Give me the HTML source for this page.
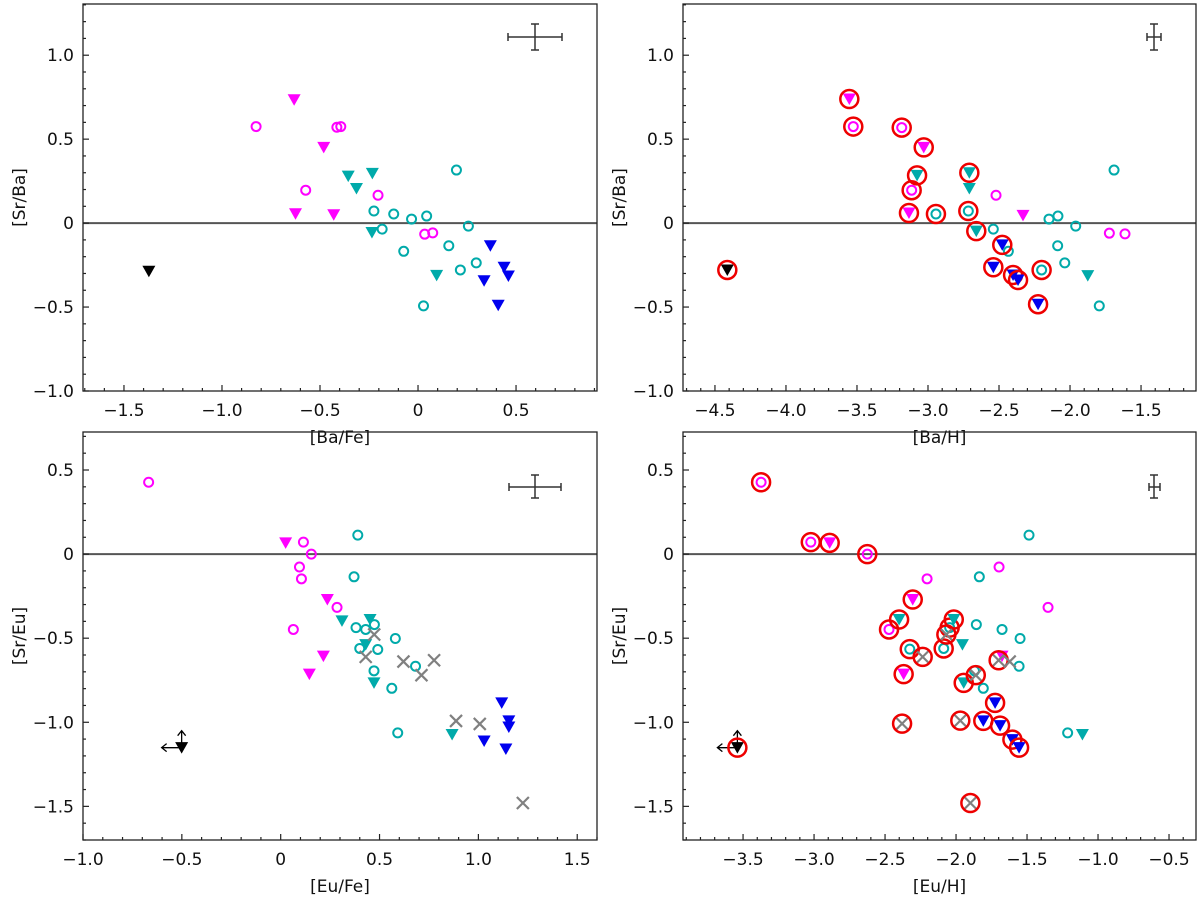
<!DOCTYPE html>
<html><head><meta charset="utf-8"><style>
html,body{margin:0;padding:0;background:#fff;}
svg{display:block;font-family:"DejaVu Sans","Liberation Sans",sans-serif;}
</style></head><body>
<svg id="fig" width="1200" height="898" viewBox="0 0 1200 898" xmlns="http://www.w3.org/2000/svg"></svg>
<script>
// ---- data (top-left: [Ba/Fe] vs [Sr/Ba]) ----
const tlX=[-0.632,-0.481,-0.625,-0.430,-0.826,-0.414,-0.394,-0.573,-0.204,0.034,0.075,-0.356,-0.233,-0.314,-0.235,0.095,0.196,-0.225,-0.124,-0.033,0.044,-0.183,0.257,-0.073,0.157,0.297,0.216,0.028,0.369,0.439,0.461,0.337,0.409,-1.373];
const tlY=[0.735,0.451,0.056,0.05,0.575,0.571,0.575,0.196,0.166,-0.066,-0.058,0.28,0.296,0.206,-0.056,-0.311,0.316,0.072,0.054,0.024,0.042,-0.036,-0.018,-0.168,-0.135,-0.237,-0.279,-0.493,-0.135,-0.263,-0.315,-0.343,-0.489,-0.287];
const tlKind=['mt','mt','mt','mt','mc','mc','mc','mc','mc','mc','mc','tt','tt','tt','tt','tt','tc','tc','tc','tc','tc','tc','tc','tc','tc','tc','tc','tc','bt','bt','bt','bt','bt','k'];
// ---- top-right: [Ba/H] vs [Sr/Ba] ----
const trX=[-3.554,-3.03,-3.134,-2.331,-3.526,-3.185,-3.115,-2.521,-1.723,-1.613,-3.077,-2.709,-2.709,-2.66,-1.875,-1.69,-2.944,-2.716,-2.54,-2.148,-2.085,-1.96,-2.434,-2.087,-2.037,-2.2,-1.794,-2.477,-2.54,-2.401,-2.366,-2.225,-4.413];
const trY=[0.739,0.451,0.06,0.046,0.575,0.569,0.196,0.166,-0.06,-0.064,0.284,0.3,0.206,-0.048,-0.313,0.316,0.054,0.072,-0.036,0.024,0.042,-0.018,-0.168,-0.135,-0.237,-0.279,-0.493,-0.13,-0.263,-0.309,-0.339,-0.483,-0.279];
const trKind=['mt','mt','mt','mt','mc','mc','mc','mc','mc','mc','tt','tt','tt','tt','tt','tc','tc','tc','tc','tc','tc','tc','tc','tc','tc','tc','tc','bt','bt','bt','bt','bt','k'];
const trRing=[1,1,1,0,1,1,1,0,0,0,1,1,0,1,0,0,1,1,0,0,0,0,0,0,0,1,0,1,1,1,1,1,1];
// ---- bottom-left: [Eu/Fe] vs [Sr/Eu] ----
const blX=[-0.668,0.115,0.155,0.095,0.105,0.285,0.064,0.025,0.236,0.216,0.145,0.39,0.371,0.381,0.43,0.474,0.58,0.4,0.491,0.682,0.472,0.562,0.592,0.31,0.452,0.43,0.472,0.867,0.473,0.43,0.621,0.776,0.712,0.887,1.007,1.225,1.118,1.154,1.154,1.029,1.139,-0.501];
const blY=[0.427,0.071,0,-0.077,-0.147,-0.317,-0.448,0.067,-0.27,-0.607,-0.714,0.113,-0.135,-0.437,-0.448,-0.419,-0.502,-0.561,-0.567,-0.667,-0.694,-0.798,-1.063,-0.397,-0.389,-0.538,-0.766,-1.073,-0.478,-0.611,-0.639,-0.631,-0.72,-0.992,-1.01,-1.48,-0.885,-0.992,-1.028,-1.111,-1.159,-1.151];
const blKind=['mc','mc','mc','mc','mc','mc','mc','mt','mt','mt','mt','tc','tc','tc','tc','tc','tc','tc','tc','tc','tc','tc','tc','tt','tt','tt','tt','tt','x','x','x','x','x','x','x','x','bt','bt','bt','bt','bt','k'];
// ---- bottom-right: [Eu/H] vs [Sr/Eu] ----
const brX=[-3.373,-3.023,-2.625,-2.204,-1.697,-1.352,-2.472,-2.89,-2.305,-2.369,-1.676,-1.486,-1.836,-1.857,-1.676,-1.549,-1.556,-1.808,-1.214,-2.326,-2.087,-2.045,-1.87,-2.401,-2.016,-1.955,-1.946,-1.11,-2.235,-2.068,-1.70,-1.622,-1.861,-2.38,-1.97,-1.899,-1.725,-1.808,-1.69,-1.603,-1.556,-3.54];
const brY=[0.427,0.071,0,-0.147,-0.077,-0.317,-0.448,0.067,-0.27,-0.714,-0.607,0.113,-0.135,-0.419,-0.448,-0.502,-0.667,-0.798,-1.063,-0.565,-0.561,-0.437,-0.694,-0.389,-0.389,-0.538,-0.766,-1.073,-0.611,-0.478,-0.631,-0.639,-0.72,-1.008,-0.99,-1.48,-0.885,-0.992,-1.02,-1.103,-1.151,-1.151];
const brKind=['mc','mc','mc','mc','mc','mc','mc','mt','mt','mt','mt','tc','tc','tc','tc','tc','tc','tc','tc','tc','tc','tc','tc','tt','tt','tt','tt','tt','x','x','x','x','x','x','x','x','bt','bt','bt','bt','bt','k'];
const brRing=[1,1,1,0,0,0,1,1,1,1,0,0,0,0,0,0,0,0,0,1,1,1,0,1,1,0,1,0,1,1,1,0,1,1,1,1,1,1,1,1,1,1];
// ---- tick labels ----
const tlXTicks=[-1.5,-1.0,-0.5,0,0.5];
const trXTicks=[-4.5,-4.0,-3.5,-3.0,-2.5,-2.0,-1.5];
const blXTicks=[-1.0,-0.5,0,0.5,1.0,1.5];
const brXTicks=[-3.5,-3.0,-2.5,-2.0,-1.5,-1.0,-0.5];
const topYTicks=[-1.0,-0.5,0,0.5,1.0];
const botYTicks=[-1.5,-1.0,-0.5,0,0.5];

const NS='http://www.w3.org/2000/svg';
const svg=document.getElementById('fig');
function mk(tag,attrs,parent){const e=document.createElementNS(NS,tag);for(const k in attrs)e.setAttribute(k,attrs[k]);(parent||svg).appendChild(e);return e;}
function fmt(v){if(v===0)return '0';return (v<0?'\u2212':'')+Math.abs(v).toFixed(1);}
const COL={m:'#ff00ff',t:'#00aaaa',b:'#0000ee',k:'#000000'};

function panel(cfg){
  const g=mk('g',{});
  
  
  const sx=v=>cfg.l+(v-cfg.x0)/(cfg.x1-cfg.x0)*(cfg.r-cfg.l);
  const sy=v=>cfg.b-(v-cfg.y0)/(cfg.y1-cfg.y0)*(cfg.b-cfg.t);
  const zl=mk('line',{x1:cfg.l,x2:cfg.r,y1:sy(0),y2:sy(0),stroke:'#555',"stroke-width":2},g);
  
  
  for(let v=Math.ceil(cfg.x0*10);v<=Math.floor(cfg.x1*10);v++){
    const x=sx(v/10);const major=(v%5===0);
    mk('line',{x1:x,x2:x,y1:cfg.b,y2:cfg.b-(major?6:3),stroke:'#222',"stroke-width":1.2},g);
  }
  for(let v=Math.ceil(cfg.y0*10);v<=Math.floor(cfg.y1*10);v++){
    const y=sy(v/10);const major=(v%5===0);
    mk('line',{x1:cfg.l,x2:cfg.l+(major?6:3),y1:y,y2:y,stroke:'#222',"stroke-width":1.2},g);
  }
  cfg.xt.forEach(v=>{const t=mk('text',{x:sx(v),y:cfg.b+25,"text-anchor":"middle","font-size":17,fill:'#111'},g);t.textContent=fmt(v);
    
    });
  cfg.yt.forEach(v=>{const t=mk('text',{x:cfg.l-9,y:sy(v)+6,"text-anchor":"end","font-size":17,fill:'#111'},g);t.textContent=fmt(v);
    
    });
  const xt=mk('text',{x:(cfg.l+cfg.r)/2,y:cfg.b+52,"text-anchor":"middle","font-size":17,fill:'#111'},g);xt.textContent=cfg.xl;
  
  
  const yc=(cfg.t+cfg.b)/2, yx=cfg.l-58;
  const yt=mk('text',{x:yx,y:yc,"text-anchor":"middle","font-size":17,fill:'#111',transform:`rotate(-90 ${yx} ${yc})`},g);yt.textContent=cfg.yl;
  
  
  const eb=mk('g',{stroke:'#333',"stroke-width":1.5,fill:'none'},g);
  
  
  const e=cfg.eb;
  mk('path',{d:`M${e[1]} ${e[2]}H${e[3]}M${e[1]} ${e[2]-4}v8M${e[3]} ${e[2]-4}v8M${e[0]} ${e[4]}V${e[5]}M${e[0]-4} ${e[4]}h8M${e[0]-4} ${e[5]}h8`},eb);
  const X=cfg.X,Y=cfg.Y,K=cfg.K,R=cfg.R;
  for(let i=0;i<X.length;i++){
    const px=sx(X[i]),py=sy(Y[i]),k=K[i];let el;
    if(k==='x'){
      el=mk('path',{d:`M${px-6} ${py-6}L${px+6} ${py+6}M${px-6} ${py+6}L${px+6} ${py-6}`,stroke:'#808080',"stroke-width":2.2,fill:'none'},g);
    }else if(k[1]==='c'){
      el=mk('circle',{cx:px,cy:py,r:4.5,fill:'none',stroke:COL[k[0]],"stroke-width":2},g);
    }else{
      const c=k==='k'?COL.k:COL[k[0]];
      el=mk('path',{d:`M${px-6.5} ${py-5.5}L${px+6.5} ${py-5.5}L${px} ${py+6}Z`,fill:c},g);
      if(k==='k'&&cfg.arrows){
        mk('path',{d:`M${px} ${py}H${px-20}M${px-15} ${py-4}L${px-20} ${py}L${px-15} ${py+4}M${px} ${py}V${py-17}M${px-4} ${py-12}L${px} ${py-17}L${px+4} ${py-12}`,stroke:'#000',"stroke-width":1.3,fill:'none'},g);
      }
    }
    
    
    if(R&&R[i]){
      const rg=mk('circle',{cx:px,cy:py,r:9,fill:'none',stroke:'#ee0000',"stroke-width":2.5},g);
      
      
    }
  }
  const fr=mk('rect',{x:cfg.l,y:cfg.t,width:cfg.r-cfg.l,height:cfg.b-cfg.t,fill:'none',stroke:'#222',"stroke-width":1.3},g);
  
  
}
panel({name:'panel-srba-bafe',l:83,r:597,t:4,b:391,x0:-1.709,x1:0.913,y0:-1.0,y1:1.305,xt:tlXTicks,yt:topYTicks,xl:'[Ba/Fe]',yl:'[Sr/Ba]',X:tlX,Y:tlY,K:tlKind,R:null,eb:[535,508,37,562,24,50]});
panel({name:'panel-srba-bah',l:683,r:1196,t:4,b:391,x0:-4.725,x1:-1.113,y0:-1.0,y1:1.305,xt:trXTicks,yt:topYTicks,xl:'[Ba/H]',yl:'[Sr/Ba]',X:trX,Y:trY,K:trKind,R:trRing,eb:[1154,1147,37,1161,24,50]});
panel({name:'panel-sreu-eufe',l:83,r:597,t:432,b:840,x0:-1.0,x1:1.6,y0:-1.7,y1:0.726,xt:blXTicks,yt:botYTicks,xl:'[Eu/Fe]',yl:'[Sr/Eu]',X:blX,Y:blY,K:blKind,R:null,arrows:true,eb:[535,509,487,561,475,498]});
panel({name:'panel-sreu-euh',l:683,r:1196,t:432,b:840,x0:-3.923,x1:-0.31,y0:-1.7,y1:0.726,xt:brXTicks,yt:botYTicks,xl:'[Eu/H]',yl:'[Sr/Eu]',X:brX,Y:brY,K:brKind,R:brRing,arrows:true,eb:[1154,1149,487,1160,475,498]});
</script>
</body></html>
